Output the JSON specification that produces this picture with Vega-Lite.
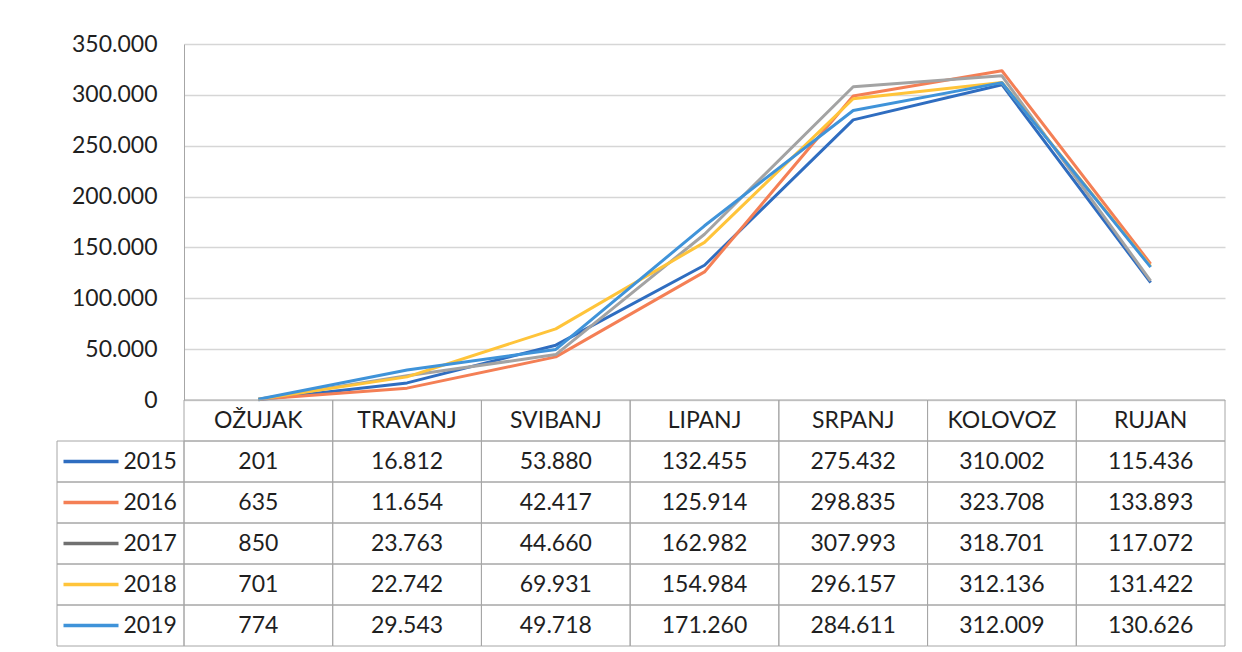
{
  "$schema": "https://vega.github.io/schema/vega-lite/v6.json",
  "width": 1041,
  "height": 602,
  "autosize": {"type": "none"},
  "padding": {"left": 184, "top": 44, "right": 17, "bottom": 6},
  "background": "white",
  "config": {
    "view": {"stroke": null},
    "font": "Lato",
    "locale": {"number": {"decimal": ",", "thousands": ".", "grouping": [3], "currency": ["", ""]}}
  },
  "data": {"values": [
    {"year": "2015", "month": "OŽUJAK", "value": 201},
    {"year": "2015", "month": "TRAVANJ", "value": 16812},
    {"year": "2015", "month": "SVIBANJ", "value": 53880},
    {"year": "2015", "month": "LIPANJ", "value": 132455},
    {"year": "2015", "month": "SRPANJ", "value": 275432},
    {"year": "2015", "month": "KOLOVOZ", "value": 310002},
    {"year": "2015", "month": "RUJAN", "value": 115436},
    {"year": "2016", "month": "OŽUJAK", "value": 635},
    {"year": "2016", "month": "TRAVANJ", "value": 11654},
    {"year": "2016", "month": "SVIBANJ", "value": 42417},
    {"year": "2016", "month": "LIPANJ", "value": 125914},
    {"year": "2016", "month": "SRPANJ", "value": 298835},
    {"year": "2016", "month": "KOLOVOZ", "value": 323708},
    {"year": "2016", "month": "RUJAN", "value": 133893},
    {"year": "2017", "month": "OŽUJAK", "value": 850},
    {"year": "2017", "month": "TRAVANJ", "value": 23763},
    {"year": "2017", "month": "SVIBANJ", "value": 44660},
    {"year": "2017", "month": "LIPANJ", "value": 162982},
    {"year": "2017", "month": "SRPANJ", "value": 307993},
    {"year": "2017", "month": "KOLOVOZ", "value": 318701},
    {"year": "2017", "month": "RUJAN", "value": 117072},
    {"year": "2018", "month": "OŽUJAK", "value": 701},
    {"year": "2018", "month": "TRAVANJ", "value": 22742},
    {"year": "2018", "month": "SVIBANJ", "value": 69931},
    {"year": "2018", "month": "LIPANJ", "value": 154984},
    {"year": "2018", "month": "SRPANJ", "value": 296157},
    {"year": "2018", "month": "KOLOVOZ", "value": 312136},
    {"year": "2018", "month": "RUJAN", "value": 131422},
    {"year": "2019", "month": "OŽUJAK", "value": 774},
    {"year": "2019", "month": "TRAVANJ", "value": 29543},
    {"year": "2019", "month": "SVIBANJ", "value": 49718},
    {"year": "2019", "month": "LIPANJ", "value": 171260},
    {"year": "2019", "month": "SRPANJ", "value": 284611},
    {"year": "2019", "month": "KOLOVOZ", "value": 312009},
    {"year": "2019", "month": "RUJAN", "value": 130626}
  ]},
  "resolve": {
    "scale": {"x": "independent", "y": "independent", "color": "independent"},
    "axis": {"x": "independent", "y": "independent"}
  },
  "layer": [
    {
      "mark": {"type": "line", "strokeWidth": 3, "strokeJoin": "round"},
      "encoding": {
        "x": {"field": "month", "type": "nominal", "sort": null,
          "scale": {"type": "band", "domain": ["OŽUJAK", "TRAVANJ", "SVIBANJ", "LIPANJ", "SRPANJ", "KOLOVOZ", "RUJAN"], "paddingInner": 0, "paddingOuter": 0},
          "axis": null},
        "y": {"field": "value", "type": "quantitative",
          "scale": {"domain": [0, 350000], "range": [356, 0], "nice": false, "zero": true},
          "axis": {"orient": "left", "values": [0, 50000, 100000, 150000, 200000, 250000, 300000, 350000], "format": ",d",
            "grid": true, "gridColor": "#d6d6d6", "gridWidth": 1.5, "ticks": false, "domain": true, "domainColor": "#a6a6a6", "domainWidth": 1,
            "labelFontSize": 23, "labelColor": "#1f1f1f", "labelPadding": 27, "title": null}},
        "color": {"field": "year", "type": "nominal",
          "scale": {"domain": ["2015", "2016", "2017", "2018", "2019"], "range": ["#2F6DC0", "#F47F55", "#A3A3A3", "#FFC43A", "#3F93D9"]},
          "legend": null}
      }
    },
    {
      "mark": {"type": "rect", "fill": "transparent", "stroke": "#a6a6a6", "strokeWidth": 1},
      "encoding": {
        "x": {"field": "month", "type": "nominal", "sort": null,
          "scale": {"type": "band", "domain": ["OŽUJAK", "TRAVANJ", "SVIBANJ", "LIPANJ", "SRPANJ", "KOLOVOZ", "RUJAN"], "paddingInner": 0, "paddingOuter": 0},
          "axis": null},
        "y": {"field": "year", "type": "nominal",
          "scale": {"type": "band", "domain": ["2015", "2016", "2017", "2018", "2019"], "range": [397, 602], "paddingInner": 0, "paddingOuter": 0},
          "axis": null}
      }
    },
    {
      "mark": {"type": "text", "fontSize": 23, "color": "#1f1f1f", "baseline": "middle"},
      "encoding": {
        "x": {"field": "month", "type": "nominal", "sort": null,
          "scale": {"type": "band", "domain": ["OŽUJAK", "TRAVANJ", "SVIBANJ", "LIPANJ", "SRPANJ", "KOLOVOZ", "RUJAN"], "paddingInner": 0, "paddingOuter": 0},
          "axis": null},
        "y": {"field": "year", "type": "nominal",
          "scale": {"type": "band", "domain": ["2015", "2016", "2017", "2018", "2019"], "range": [397, 602], "paddingInner": 0, "paddingOuter": 0},
          "axis": null},
        "text": {"field": "value", "type": "quantitative", "format": ",d"}
      }
    },
    {
      "transform": [{"aggregate": [{"op": "count", "as": "n"}], "groupby": ["month"]}],
      "encoding": {
        "x": {"field": "month", "type": "nominal", "sort": null,
          "scale": {"type": "band", "domain": ["OŽUJAK", "TRAVANJ", "SVIBANJ", "LIPANJ", "SRPANJ", "KOLOVOZ", "RUJAN"], "paddingInner": 0, "paddingOuter": 0},
          "axis": null},
        "y": {"datum": "H", "type": "nominal",
          "scale": {"type": "band", "domain": ["H"], "range": [356, 397], "paddingInner": 0, "paddingOuter": 0},
          "axis": null}
      },
      "layer": [
        {"mark": {"type": "rect", "fill": "transparent", "stroke": "#a6a6a6", "strokeWidth": 1}},
        {"mark": {"type": "text", "fontSize": 23, "color": "#1f1f1f", "baseline": "middle"},
         "encoding": {"text": {"field": "month", "type": "nominal"}}}
      ]
    },
    {
      "transform": [{"aggregate": [{"op": "count", "as": "n"}], "groupby": ["year"]}],
      "mark": {"type": "rect", "fill": "transparent", "stroke": "#a6a6a6", "strokeWidth": 1},
      "encoding": {
        "x": {"datum": "leg", "type": "nominal",
          "scale": {"type": "band", "domain": ["leg"], "range": [-127, 0], "paddingInner": 0, "paddingOuter": 0},
          "axis": null},
        "y": {"field": "year", "type": "nominal",
          "scale": {"type": "band", "domain": ["2015", "2016", "2017", "2018", "2019"], "range": [397, 602], "paddingInner": 0, "paddingOuter": 0},
          "axis": {"orient": "left", "offset": 66, "domain": false, "grid": false, "title": null,
            "ticks": true, "tickSize": 55, "tickWidth": 3.5,
            "tickColor": {"condition": [
              {"test": "datum.value === '2015'", "value": "#2F6DC0"},
              {"test": "datum.value === '2016'", "value": "#F47F55"},
              {"test": "datum.value === '2017'", "value": "#707070"},
              {"test": "datum.value === '2018'", "value": "#FFC43A"}
            ], "value": "#3F93D9"},
            "labelAlign": "left", "labelPadding": -60, "labelFontSize": 23, "labelColor": "#1f1f1f"}}
      }
    }
  ]
}
